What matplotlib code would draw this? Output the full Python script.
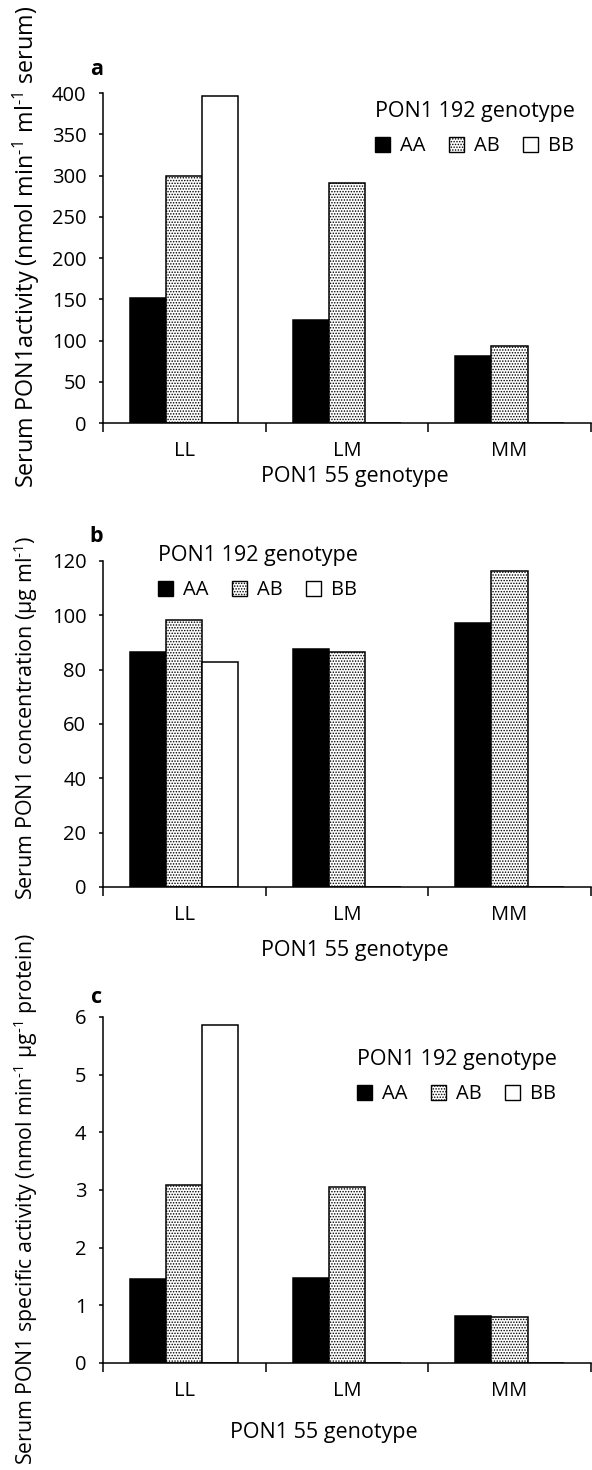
import matplotlib
matplotlib.use("Agg")
import matplotlib.pyplot as plt
from matplotlib.patches import Patch

plt.rcParams['font.family'] = ['Open Sans', 'DejaVu Sans']
plt.rcParams['mathtext.fontset'] = 'custom'
plt.rcParams['mathtext.rm'] = 'Open Sans'
plt.rcParams['mathtext.default'] = 'regular'
plt.rcParams['hatch.linewidth'] = 0.7

genotype55 = ["LL", "LM", "MM"]
genotype192 = ["AA", "AB", "BB"]

# a: serum PON1 activity
act_aa = [151, 125, 81]
act_ab = [300, 291, 94]
act_bb = [397, 0, 0]

# b: serum PON1 concentration
conc_aa = [86.6, 87.6, 97.3]
conc_ab = [98.3, 86.4, 116.3]
conc_bb = [82.7, 0, 0]

# c: PON1 specific activity
spec_aa = [1.46, 1.47, 0.82]
spec_ab = [3.09, 3.06, 0.79]
spec_bb = [5.86, 0, 0]

TICK_FS = 14.5
TEXT_FS = 15.5
bar_w = 0.222
styles = {
    "AA": dict(facecolor="black", edgecolor="black"),
    "AB": dict(facecolor="white", edgecolor="black", hatch="......"),
    "BB": dict(facecolor="white", edgecolor="black"),
}

fig = plt.figure(figsize=(5.92, 14.70), dpi=100)
left, width = 0.174, 0.824
ax_a = fig.add_axes([left, 0.7122, width, 0.2245])
ax_b = fig.add_axes([left, 0.3966, width, 0.2218])
ax_c = fig.add_axes([left, 0.0728, width, 0.2354])


def draw_panel(ax, aa, ab, bb, ymax, ystep, ylabel, ylab_y, ylab_fs,
               letter, letter_y, leg_xy, xlab_xy):
    x = range(len(genotype55))
    for off, key, vals in [(-bar_w, "AA", aa), (0, "AB", ab), (bar_w, "BB", bb)]:
        ax.bar([i + off for i in x], vals, bar_w, linewidth=1.1, **styles[key])

    ax.set_xlim(-0.5, 2.5)
    ax.set_ylim(0, ymax)
    ax.set_yticks(range(0, int(ymax) + 1, ystep))
    ax.set_xticks([-0.5, 0.5, 1.5, 2.5])
    ax.set_xticklabels([])
    ax.set_xticks(list(x), minor=True)
    ax.set_xticklabels(genotype55, minor=True)
    ax.tick_params(axis="x", which="major", direction="out", length=6.5, width=1.1)
    ax.tick_params(axis="x", which="minor", length=0, pad=13, labelsize=TICK_FS)
    ax.tick_params(axis="y", direction="out", length=3, width=1.1, pad=9,
                   labelsize=TICK_FS)
    for s in ["top", "right"]:
        ax.spines[s].set_visible(False)
    for s in ["left", "bottom"]:
        ax.spines[s].set_linewidth(1.1)

    ax.text(-0.158, ylab_y, ylabel, transform=ax.transAxes, rotation=90,
            ha="center", va="center", fontsize=ylab_fs)
    ax.text(-0.014, letter_y, letter, transform=ax.transAxes, ha="center",
            va="center", fontsize=TEXT_FS, fontweight="bold")
    ax.set_xlabel("PON1 55 genotype", fontsize=TEXT_FS)
    ax.xaxis.set_label_coords(*xlab_xy)

    handles = [Patch(linewidth=1.0, **styles[k]) for k in genotype192]
    ax.legend(handles, genotype192, title="PON1 192 genotype", ncol=3,
              loc="upper left", bbox_to_anchor=leg_xy, frameon=False,
              fontsize=TICK_FS, title_fontsize=TEXT_FS, alignment="left",
              borderpad=0, borderaxespad=0, handlelength=0.75,
              handleheight=0.75, handletextpad=0.5, columnspacing=1.15,
              labelspacing=0.7)


draw_panel(ax_a, act_aa, act_ab, act_bb, 400, 50,
           "Serum PON1activity (nmol min$^{‐1}$ ml$^{‐1}$ serum)", 0.535, 16.8,
           "a", 1.07, (0.557, 0.975), (0.516, -0.130))
draw_panel(ax_b, conc_aa, conc_ab, conc_bb, 120, 20,
           "Serum PON1 concentration (µg ml$^{‐1}$)", 0.518, 15.5,
           "b", 1.074, (0.113, 1.048), (0.516, -0.163))
draw_panel(ax_c, spec_aa, spec_ab, spec_bb, 6, 1,
           "Serum PON1 specific activity (nmol min$^{‐1}$ µg$^{‐1}$ protein)", 0.474, 15.3,
           "c", 1.055, (0.52, 0.907), (0.453, -0.171))

fig.savefig("out.png", dpi=100)
